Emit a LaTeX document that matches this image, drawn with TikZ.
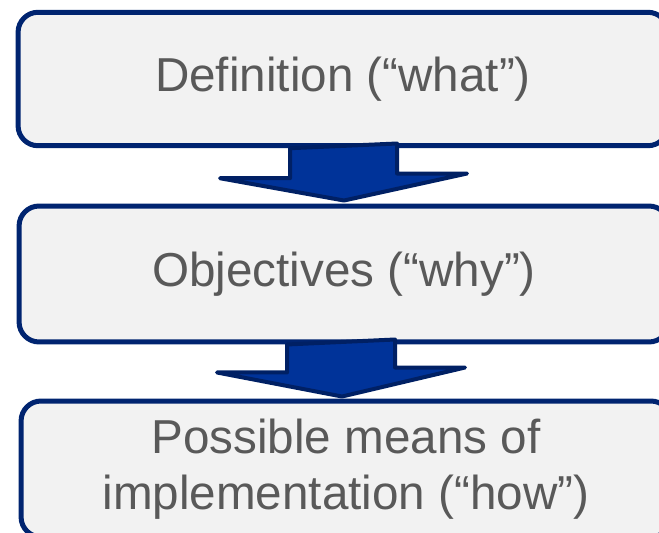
\documentclass[tikz,border=0pt]{standalone}
\usepackage{fontspec}
\setmainfont{Liberation Sans}
\usepackage{tikz}
\usetikzlibrary{calc}

\definecolor{boxline}{RGB}{0,36,112}
\definecolor{boxfill}{RGB}{242,242,242}
\definecolor{arrowfill}{RGB}{0,51,153}
\definecolor{arrowline}{RGB}{0,32,100}
\definecolor{textgray}{RGB}{89,89,89}

\begin{document}
\begin{tikzpicture}[x=0.02cm, y=-0.02cm,
  stagebox/.style={draw=boxline, fill=boxfill, line width=0.1cm,
    rounded corners=0.4cm, minimum width=13cm, inner sep=0pt,
    text=textgray, align=center,
    font=\fontsize{27.1}{32}\selectfont},
  blockarrow/.style={draw=arrowline, fill=arrowfill, line width=0.08cm,
    line join=round}]

 \useasboundingbox (0,0) rectangle (659,533);

 \node [stagebox, minimum height=2.67cm] (definition) at (343,79)
     {Definition (“what”)};

 \node [stagebox, minimum height=2.72cm] (objectives) at (344,274)
     {Objectives (“why”)};

 \node [stagebox, minimum height=2.72cm] (means) at (346,469)
     {Possible means of\\implementation (“how”)};


 \draw [blockarrow] ($(definition.south)+(-53,0)$) -- ++(0,30) -- ++(-70,0)
     -- ($(objectives.north)+(0,-3)$) -- ++(123,-27) -- ++(-70,0) -- ++(0,-30) -- cycle;
 \draw [blockarrow] ($(objectives.south)+(-57,0)$) -- ++(0,28) -- ++(-70,0)
     -- ($(means.north)+(-4,-2)$) -- ++(123,-29) -- ++(-70,0) -- ++(0,-28) -- cycle;


 \end{tikzpicture}
\end{document}
